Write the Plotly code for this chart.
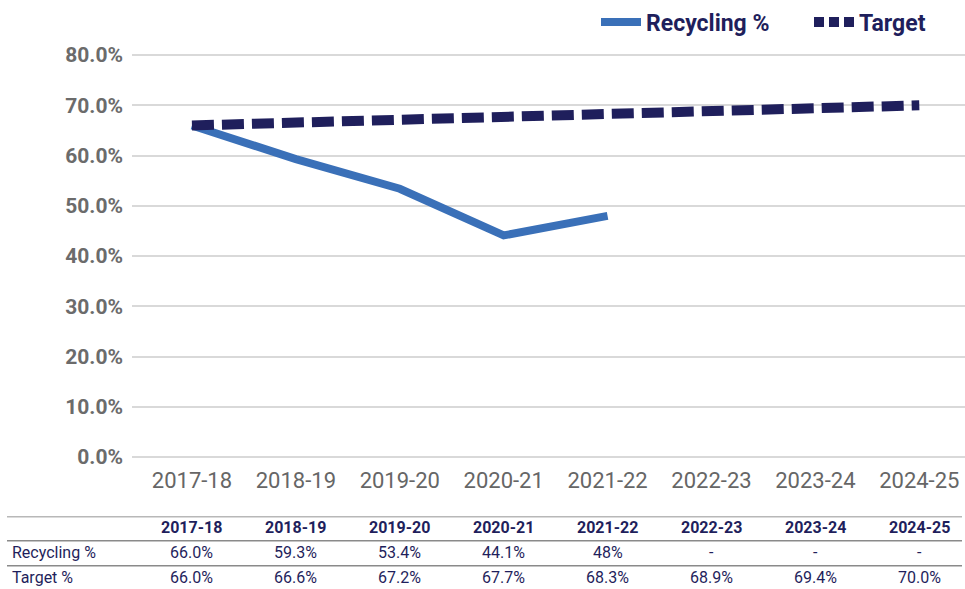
import plotly.graph_objects as go

years = ["2017-18", "2018-19", "2019-20", "2020-21", "2021-22", "2022-23", "2023-24", "2024-25"]
recycling = [0.660, 0.593, 0.534, 0.441, 0.48, None, None, None]
target = [0.660, 0.666, 0.672, 0.677, 0.683, 0.689, 0.694, 0.700]
recycling_labels = ["66.0%", "59.3%", "53.4%", "44.1%", "48%", "-", "-", "-"]
target_labels = ["66.0%", "66.6%", "67.2%", "67.7%", "68.3%", "68.9%", "69.4%", "70.0%"]
y_ticks = [0, 0.1, 0.2, 0.3, 0.4, 0.5, 0.6, 0.7, 0.8]

NAVY = "#1f1f5c"
BLUE = "#3a70b8"
W, H = 965, 589
L, T, R, B = 132, 49, 0, 589 - 462
PW, PH = W - L - R, H - T - B

def px(sx):
    return (sx - L) / PW

def py(sy):
    return (H - B - sy) / PH

FONT = "Roboto"
fig = go.Figure()
fig.add_trace(go.Scatter(x=years, y=recycling, mode="lines", name="Recycling %",
                         line=dict(color=BLUE, width=8), connectgaps=False))
fig.add_trace(go.Scatter(x=years, y=target, mode="lines", name="Target", showlegend=False,
                         line=dict(color=NAVY, width=10, dash="22px,8px")))
fig.add_trace(go.Scatter(x=[None], y=[None], mode="lines", name="Target",
                         line=dict(color=NAVY, width=10, dash="10px,5px")))

tf = dict(size=16, color=NAVY, family=FONT)
ann = []
for i, yr in enumerate(years):
    ann.append(dict(x=i, y=py(528), xref="x", yref="paper", text="<b>%s</b>" % yr,
                    yanchor="middle", showarrow=False, font=tf))
    ann.append(dict(x=i, y=py(553), xref="x", yref="paper", text=recycling_labels[i],
                    yanchor="middle", showarrow=False, font=tf))
    ann.append(dict(x=i, y=py(578), xref="x", yref="paper", text=target_labels[i],
                    yanchor="middle", showarrow=False, font=tf))
ann.append(dict(x=px(10), y=py(553), xref="paper", yref="paper", text="Recycling %",
                xanchor="left", yanchor="middle", showarrow=False, font=tf))
ann.append(dict(x=px(10), y=py(578), xref="paper", yref="paper", text="Target %",
                xanchor="left", yanchor="middle", showarrow=False, font=tf))

shapes = []
for yp, col in [(517, "#b8b8b8"), (541, "#8a8a8a"), (566, "#8a8a8a")]:
    shapes.append(dict(type="line", xref="paper", yref="paper", x0=px(7), x1=px(962),
                       y0=py(yp), y1=py(yp), line=dict(color=col, width=1.5)))

fig.update_layout(
    width=W, height=H,
    margin=dict(l=L, r=R, t=T, b=B),
    plot_bgcolor="white", paper_bgcolor="white",
    font=dict(family=FONT, color="#666666"),
    showlegend=True,
    legend=dict(orientation="h", xref="container", yref="container",
                x=596 / W, xanchor="left", y=1 - 22 / H, yanchor="middle",
                font=dict(size=23, color=NAVY, family=FONT, weight="bold"),
                itemwidth=40, entrywidth=158, bgcolor="rgba(0,0,0,0)"),
    xaxis=dict(range=[-0.577, 7.44], showgrid=False, showline=False, zeroline=False,
               tickfont=dict(size=22, color="#666666", family=FONT), ticks="",
               ticklabelstandoff=3),
    yaxis=dict(range=[-0.01, 0.81], tickvals=y_ticks, tickformat=".1%", showgrid=True,
               gridcolor="#d9d9d9", gridwidth=2, zeroline=False, showline=False,
               tickfont=dict(size=21, color="#6b6b6b", family=FONT, weight="bold"),
               ticklabelstandoff=8),
    annotations=ann,
    shapes=shapes,
)

fig.write_html("out.html", config={"displayModeBar": False},
               post_script="document.body.style.margin='0px';")
